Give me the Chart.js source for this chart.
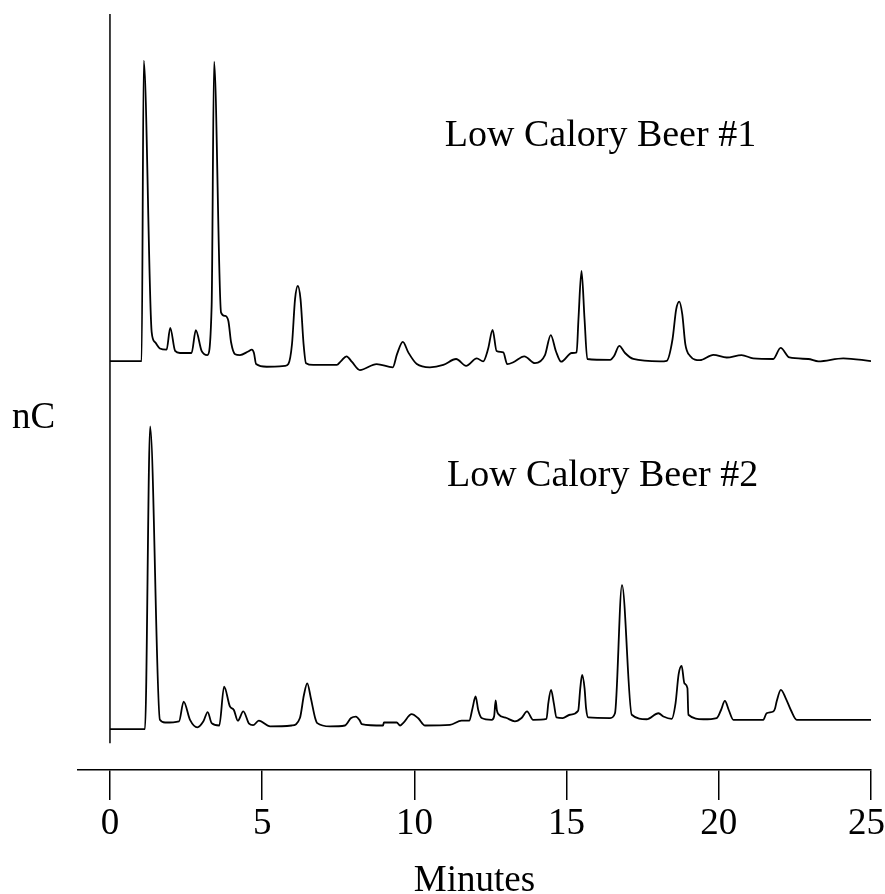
<!DOCTYPE html>
<html>
<head>
<meta charset="utf-8">
<script src="https://cdn.jsdelivr.net/npm/chart.js@4.4.1/dist/chart.umd.min.js"></script>
<style>
  html, body { margin: 0; padding: 0; background: #fff; }
  canvas { display: block; }
</style>
</head>
<body>
<canvas id="chromChart" width="885" height="894"></canvas>
<script>
// retention time (minutes) and detector signal, beer #1
const time1 = [0, 1.04, 1.11, 1.37, 1.48, 1.64, 1.86, 1.98, 2.14, 2.30, 2.68, 2.82, 3.01, 3.20, 3.34, 3.42, 3.65, 3.78, 3.89, 3.98,
  4.11, 4.27, 4.54, 4.66, 4.73, 4.80, 5.15, 5.75, 5.86, 5.98, 6.08, 6.17, 6.26, 6.36, 6.44, 6.68, 7.45, 7.59, 7.77, 7.95,
  8.21, 8.76, 9.29, 9.43, 9.62, 9.80, 10.08, 10.51, 10.95, 11.37, 11.70, 12.05, 12.26, 12.42, 12.57, 12.70, 12.92, 13.05, 13.25, 13.61,
  13.96, 14.29, 14.48, 14.65, 14.82, 15.17, 15.33, 15.39, 15.49, 15.59, 15.68, 16.43, 16.56, 16.73, 16.92, 17.19, 18.07, 18.29, 18.48, 18.60,
  18.70, 18.80, 18.90, 19.05, 19.38, 19.82, 20.26, 20.75, 21.13, 21.79, 22.03, 22.32, 22.94, 23.27, 24.09, 25];
const signal1 = [0, 0, 100.4, 9.7, 6.3, 4.2, 3.8, 11.1, 3.4, 2.7, 2.7, 10.3, 3.4, 2.0, 18.4, 100.1, 16.2, 15.1, 13.4, 6.2,
  2.3, 2.0, 3.2, 3.8, 2.7, -1.0, -1.9, -1.6, -1.0, 5.7, 20.7, 25.1, 20.7, 5.7, -0.7, -1.3, -1.3, 0, 1.6, -0.3,
  -3.0, -1.0, -2.1, 2.3, 6.4, 2.9, -1.0, -2.1, -1.3, 0.7, -1.6, 0.9, -0.1, 4.0, 10.4, 3.4, 2.9, -1.0, -0.4, 1.6,
  -0.7, 2.0, 8.7, 3.3, -0.2, 2.7, 2.9, 14.0, 30.1, 14.0, 0.7, 0.4, 1.7, 5.1, 2.7, 0.7, -0.1, 0.1, 7.3, 17.3,
  19.9, 15.7, 5.7, 1.8, 0.3, 2.1, 1.2, 2.0, 0.9, 0.7, 4.4, 1.2, 0.7, -0.1, 0.9, 0];

// retention time (minutes) and detector signal, beer #2
const time2 = [0, 1.15, 1.32, 1.64, 1.81, 2.27, 2.42, 2.63, 2.87, 3.07, 3.21, 3.34, 3.59, 3.75, 3.94, 4.07, 4.20, 4.38, 4.57, 4.70,
  4.89, 5.26, 5.97, 6.24, 6.37, 6.48, 6.60, 6.74, 6.81, 7.23, 7.72, 7.92, 8.08, 8.20, 8.27, 8.97, 9.00, 9.42, 9.53, 9.63,
  9.91, 10.12, 10.35, 11.17, 11.55, 11.80, 11.91, 12.01, 12.10, 12.21, 12.54, 12.62, 12.67, 12.71, 12.76, 13.03, 13.30, 13.52, 13.70, 13.90,
  14.34, 14.40, 14.49, 14.58, 14.67, 14.87, 15.11, 15.38, 15.45, 15.51, 15.59, 15.64, 15.71, 16.43, 16.59, 16.82, 17.14, 17.63, 18.02, 18.18,
  18.45, 18.58, 18.68, 18.78, 18.87, 18.97, 19.00, 19.49, 19.93, 20.07, 20.20, 20.33, 20.48, 21.46, 21.57, 21.79, 21.85, 21.90, 22.04, 22.20,
  22.37, 22.56, 25];
const signal2 = [0, 0, 101.2, 3.1, 2.2, 2.6, 9.2, 3.1, 0.6, 2.6, 5.7, 2.0, 1.2, 14.2, 7.6, 6.4, 2.8, 5.9, 1.8, 1.3,
  2.8, 0.9, 1.2, 3.7, 11.3, 15.3, 10.3, 3.7, 2.0, 0.9, 1.2, 3.7, 4.2, 3.0, 1.7, 1.2, 2.2, 2.2, 1.2, 2.0,
  5.0, 3.7, 1.2, 1.4, 2.8, 2.8, 7.0, 10.9, 6.3, 3.7, 3.1, 4.3, 9.6, 6.3, 5.0, 3.7, 2.6, 3.7, 5.9, 3.1,
  3.4, 8.7, 13.1, 8.7, 3.9, 3.7, 4.8, 6.1, 13.7, 18.1, 13.7, 7.0, 3.9, 3.7, 5.3, 48.1, 4.8, 3.3, 5.3, 4.2,
  3.4, 8.7, 18.3, 21.1, 15.3, 13.7, 4.8, 3.3, 3.7, 6.3, 9.4, 6.3, 3.1, 3.1, 5.3, 5.9, 7.0, 9.2, 13.1, 10.3,
  6.3, 3.1, 3.1];

const xTicks = [0, 5, 10, 15, 20, 25];
const sampleNames = ['Low Calory Beer #1', 'Low Calory Beer #2'];

const serif = "'Liberation Serif', 'Times New Roman', serif";

const toPoints = (xs, ys) => xs.map((x, i) => ({ x: x, y: ys[i] }));

// y axis line (stops above the time axis) plus the text labels
const annotations = {
    id: 'annotations',
    afterDraw(chart) {
        const { ctx, scales } = chart;
        const x0 = scales.x.getPixelForValue(0);
        ctx.save();
        ctx.strokeStyle = '#000';
        ctx.lineWidth = 1.5;
        ctx.beginPath();
        ctx.moveTo(x0, chart.chartArea.top);
        ctx.lineTo(x0, scales.y2.getPixelForValue(-4.7));
        ctx.stroke();

        ctx.fillStyle = '#000';
        ctx.font = '38px ' + serif;
        ctx.textBaseline = 'alphabetic';
        ctx.textAlign = 'left';
        ctx.fillText(sampleNames[0], scales.x.getPixelForValue(11.0), scales.y1.getPixelForValue(71.8));
        ctx.fillText(sampleNames[1], scales.x.getPixelForValue(11.07), scales.y2.getPixelForValue(81.3));
        ctx.font = '37px ' + serif;
        ctx.fillText('nC', 12, 428);
        ctx.restore();
    }
};

const lineStyle = {
    borderColor: '#000',
    borderWidth: 1.8,
    pointRadius: 0,
    cubicInterpolationMode: 'monotone',
    fill: false
};

new Chart(document.getElementById('chromChart'), {
    type: 'line',
    data: {
        datasets: [
            Object.assign({ label: sampleNames[0], data: toPoints(time1, signal1), yAxisID: 'y1' }, lineStyle),
            Object.assign({ label: sampleNames[1], data: toPoints(time2, signal2), yAxisID: 'y2' }, lineStyle)
        ]
    },
    options: {
        responsive: false,
        animation: false,
        layout: { padding: { left: 78, top: 14, right: 0, bottom: 0 } },
        plugins: {
            legend: { display: false },
            tooltip: { enabled: false }
        },
        scales: {
            x: {
                type: 'linear',
                min: -1.05,
                max: 25,
                afterBuildTicks: scale => { scale.ticks = xTicks.map(v => ({ value: v })); },
                afterFit: scale => { scale.paddingRight = 14; },
                grid: { drawOnChartArea: false, drawTicks: true, tickLength: 30, color: '#000', lineWidth: 1.5 },
                border: { display: true, color: '#000', width: 1.5 },
                ticks: {
                    color: '#000',
                    padding: 2,
                    maxRotation: 0,
                    font: { family: serif, size: 37 },
                    // last label sits a little left of its tick, as in the original
                    callback: v => (v === 25 ? '25 ' : String(v))
                },
                title: {
                    display: true,
                    text: 'Minutes',
                    color: '#000',
                    font: { family: serif, size: 37, lineHeight: 0.7 },
                    padding: { top: 19.7, bottom: 0 }
                }
            },
            y1: { display: false, min: -136.67, max: 116 },
            y2: { display: false, min: -13.67, max: 239 }
        }
    },
    plugins: [annotations]
});
</script>
</body>
</html>
